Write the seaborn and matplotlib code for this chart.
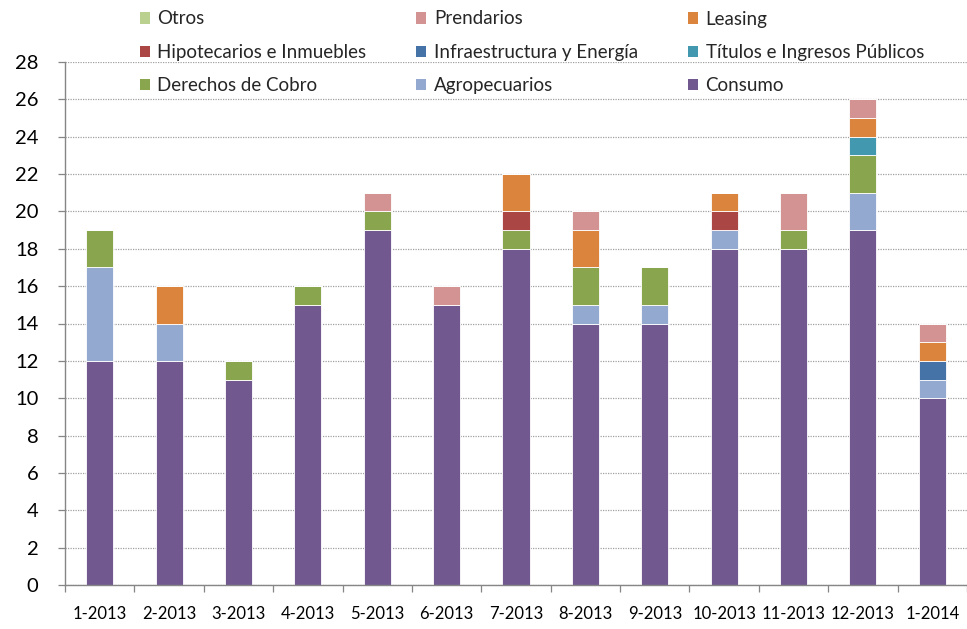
import matplotlib
matplotlib.use("Agg")
import matplotlib.pyplot as plt
from matplotlib.patches import Patch
import seaborn as sns
import pandas as pd

categories = ["1-2013", "2-2013", "3-2013", "4-2013", "5-2013", "6-2013", "7-2013",
              "8-2013", "9-2013", "10-2013", "11-2013", "12-2013", "1-2014"]

consumo      = [12, 12, 11, 15, 19, 15, 18, 14, 14, 18, 18, 19, 10]
agropecuarios = [5, 2, 0, 0, 0, 0, 0, 1, 1, 1, 0, 2, 1]
derechos     = [2, 0, 1, 1, 1, 0, 1, 2, 2, 0, 1, 2, 0]
titulos      = [0, 0, 0, 0, 0, 0, 0, 0, 0, 0, 0, 1, 0]
infra        = [0, 0, 0, 0, 0, 0, 0, 0, 0, 0, 0, 0, 1]
hipotecarios = [0, 0, 0, 0, 0, 0, 1, 0, 0, 1, 0, 0, 0]
leasing      = [0, 2, 0, 0, 0, 0, 2, 2, 0, 1, 0, 1, 1]
prendarios   = [0, 0, 0, 0, 1, 1, 0, 1, 0, 0, 2, 1, 1]
otros        = [0, 0, 0, 0, 0, 0, 0, 0, 0, 0, 0, 0, 0]

series_names = ["Otros", "Prendarios", "Leasing", "Hipotecarios e Inmuebles",
                "Infraestructura y Energía", "Títulos e Ingresos Públicos",
                "Derechos de Cobro", "Agropecuarios", "Consumo"]
series_values = [otros, prendarios, leasing, hipotecarios, infra, titulos,
                 derechos, agropecuarios, consumo]
colors = ["#B9D08F", "#D39392", "#DB843D", "#AA4643", "#4572A7", "#4298AF",
          "#89A54E", "#94A9D0", "#71588F"]

rows = []
for name, vals in zip(series_names, series_values):
    for c, v in zip(categories, vals):
        rows.append({"cat": c, "serie": name, "valor": v})
df = pd.DataFrame(rows)
df["cat"] = pd.Categorical(df["cat"], categories=categories, ordered=True)

sns.set_theme(style="white")
plt.rcParams["font.family"] = ["Lato", "DejaVu Sans"]

fig = plt.figure(figsize=(9.67, 6.29), dpi=100)
ax = fig.add_axes([65 / 967, 1 - 585 / 629, 1 - 65 / 967, (585 - 62) / 629])

palette = dict(zip(series_names, colors))
sns.histplot(data=df, x="cat", weights="valor", hue="serie", hue_order=series_names,
             multiple="stack", discrete=True, shrink=0.39, palette=palette,
             alpha=1, linewidth=0.6, edgecolor="white", legend=False, ax=ax)

ax.set_ylim(0, 28)
ax.set_xlim(-0.5, 12.44)
ax.set_yticks(range(0, 29, 2))
ax.set_xticks(range(len(categories)))
ax.set_xticklabels(categories)
ax.set_xlabel("")
ax.set_ylabel("")

ax.grid(axis="y", color="#A0A0A0", linestyle=(0, (1, 1)), linewidth=0.9)
ax.set_axisbelow(True)
for s in ["top", "right"]:
    ax.spines[s].set_visible(False)
for s in ["left", "bottom"]:
    ax.spines[s].set_color("#868686")
    ax.spines[s].set_linewidth(1.0)

ax.tick_params(axis="y", left=True, length=5, width=0.9, color="#868686",
               labelsize=14.5, pad=14, labelcolor="black")
ax.tick_params(axis="x", bottom=False, labelsize=12, pad=9, labelcolor="black")
# boundary ticks on the x axis
ax.set_xticks([i - 0.5 for i in range(len(categories) + 1)], minor=True)
ax.tick_params(axis="x", which="minor", bottom=True, length=5, width=0.9,
               color="#868686")

handles = [Patch(facecolor=c, edgecolor="none") for c in colors]
order = [0, 3, 6, 1, 4, 7, 2, 5, 8]
fig.legend([handles[i] for i in order], [series_names[i] for i in order],
           ncol=3, loc="upper left", bbox_to_anchor=(132 / 967, 1 - 3 / 629),
           frameon=False, fontsize=13.5, handlelength=0.55, handleheight=0.55,
           handletextpad=0.4, columnspacing=2.65, labelspacing=0.87,
           borderaxespad=0)

fig.savefig("out.png", dpi=100)
